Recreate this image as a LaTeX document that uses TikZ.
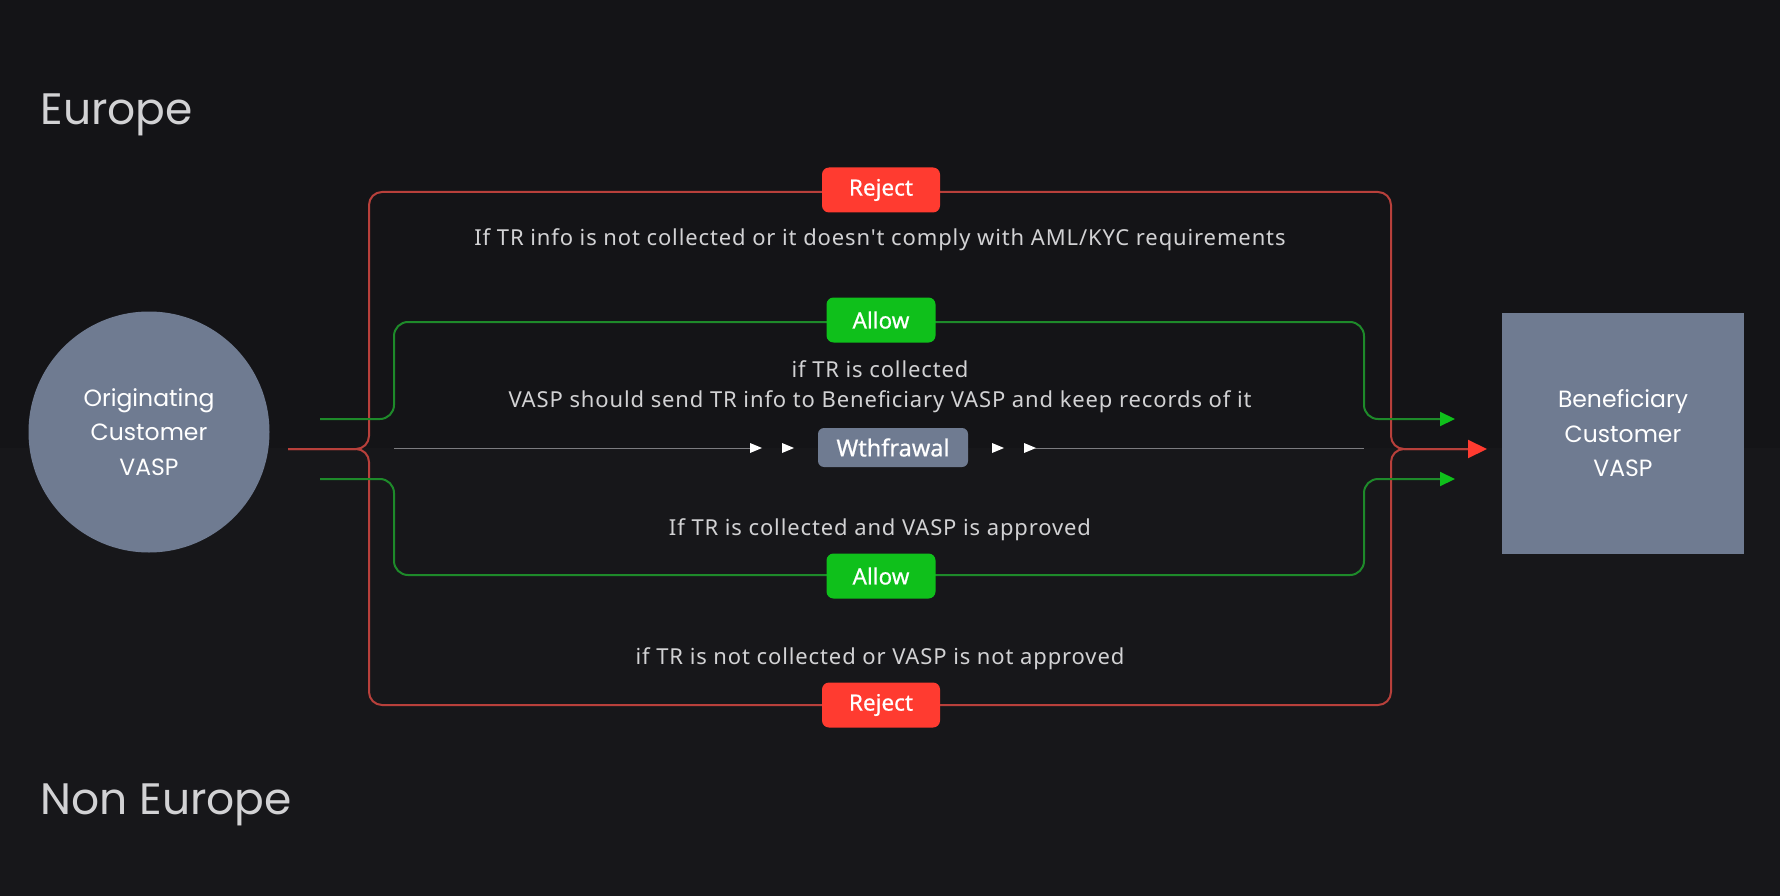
\documentclass[tikz,border=0pt]{standalone}
\usepackage{fontspec}
\setmainfont{Noto Sans}
\newfontfamily\headfont{Poppins}
\newfontfamily\bodyfont[LetterSpace=4]{Noto Sans}
\newfontfamily\labfont[FakeBold=0.6]{Noto Sans}
\usetikzlibrary{arrows.meta}
\definecolor{bgtop}{HTML}{141417}
\definecolor{bgbot}{HTML}{17171A}
\definecolor{slate}{HTML}{6F7B91}
\definecolor{redline}{HTML}{B8403B}
\definecolor{redlab}{HTML}{FF3B30}
\definecolor{greenline}{HTML}{1E8A2A}
\definecolor{greenlab}{HTML}{0FC01B}
\definecolor{txt}{HTML}{D2D2D4}
\definecolor{grayline}{HTML}{7C7C80}
\tikzset{
  region/.style={text=txt, anchor=west, font=\headfont\fontsize{44}{52}\selectfont},
  vasp/.style={fill=slate, text=white, align=center, font=\headfont\fontsize{23.5}{34.5}\selectfont},
  cond/.style={text=txt, font=\bodyfont\fontsize{22}{32}\selectfont},
  rejectlab/.style={fill=redlab, text=white, rounded corners=7pt, minimum width=118pt, minimum height=45pt, inner sep=0pt, font=\labfont\fontsize{22.5}{26}\selectfont},
  allowlab/.style={fill=greenlab, text=white, rounded corners=7pt, minimum width=109pt, minimum height=45pt, inner sep=0pt, font=\labfont\fontsize{22.5}{26}\selectfont},
  wlab/.style={fill=slate, text=white, rounded corners=6pt, minimum width=150pt, minimum height=39pt, inner sep=0pt, font=\labfont\fontsize{23.5}{26}\selectfont},
  redpath/.style={draw=redline, line width=2pt, rounded corners=13pt},
  greenpath/.style={draw=greenline, line width=2pt, rounded corners=14pt},
  grayflow/.style={draw=grayline, line width=1pt},
  tipwhite/.style={fill=white},
}
\begin{document}
\begin{tikzpicture}[x=1pt,y=-1pt]
\useasboundingbox (0,0) rectangle (1780,896);
\fill[bgtop] (0,0) rectangle (1780,448);
\fill[bgbot] (0,448) rectangle (1780,896);

% region titles
\node[region] (eu) at (37,115) {Europe};
\node[region] (neu) at (37,805) {Non Europe};

% end nodes
\node[vasp, circle, minimum size=241pt, inner sep=0pt] (orig) at (149,432) {Originating\\Customer\\VASP};
\node[vasp, minimum width=242pt, minimum height=241pt, inner sep=0pt] (benef) at (1623,433.5) {Beneficiary\\Customer\\VASP};

% connector end points
\coordinate (rin) at (288,449);
\coordinate (rout) at (1487,449);
\coordinate (gin1) at (320,419);
\coordinate (gout1) at (1455,419);
\coordinate (gin2) at (320,479);
\coordinate (gout2) at (1455,479);
\coordinate (gl1) at (394,448);
\coordinate (gl2) at (1364,448);

% red reject paths
\path[redpath] (rin) -- (369,449) -- (369,192) -- (1391,192) -- (1391,449) -- (1470,449);
\path[redpath] (rin) -- (369,449) -- (369,705) -- (1391,705) -- (1391,449) -- (1470,449);
\draw[draw=redline, line width=2pt, -{Triangle[length=19pt,width=18pt,color=redlab]}] (1460,449) -- (rout);

% green allow paths
\path[greenpath] (gin1) -- (394,419) -- (394,322) -- (1364,322) -- (1364,419) -- (1445,419);
\draw[draw=greenline, line width=2pt, -{Triangle[length=15pt,width=14pt,color=greenlab]}] (1435,419) -- (gout1);
\path[greenpath] (gin2) -- (394,479) -- (394,575) -- (1364,575) -- (1364,479) -- (1445,479);
\draw[draw=greenline, line width=2pt, -{Triangle[length=15pt,width=14pt,color=greenlab]}] (1435,479) -- (gout2);

% labels on the paths
\node[rejectlab] (rej1) at (881,190) {Reject};
\node[rejectlab] (rej2) at (881,705) {Reject};
\node[allowlab] (all1) at (881,320) {Allow};
\node[allowlab] (all2) at (881,576) {Allow};

% withdrawal flow
\node[wlab] (wd) at (893,447.5) {Wthfrawal};
\draw[grayflow] (gl1) -- (751,448);
\draw[grayflow] (1035,448) -- (gl2);
\fill[tipwhite] (750,443) -- (762,448) -- (750,453) -- cycle;
\fill[tipwhite] (782,443) -- (794,448) -- (782,453) -- cycle;
\fill[tipwhite] (992,443) -- (1004,448) -- (992,453) -- cycle;
\fill[tipwhite] (1024,443) -- (1036,448) -- (1024,453) -- cycle;

% conditions
\node[cond] (c1) at (880,240) {If TR info is not collected or it doesn\char39 t comply with AML/KYC requirements};
\node[cond] (c2) at (880,369) {if TR is collected};
\node[cond] (c3) at (880,402) {VASP should send TR info to Beneficiary VASP and keep records of it};
\node[cond] (c4) at (880,530) {If TR is collected and VASP is approved};
\node[cond] (c5) at (880,659) {if TR is not collected or VASP is not approved};
\end{tikzpicture}
\end{document}
